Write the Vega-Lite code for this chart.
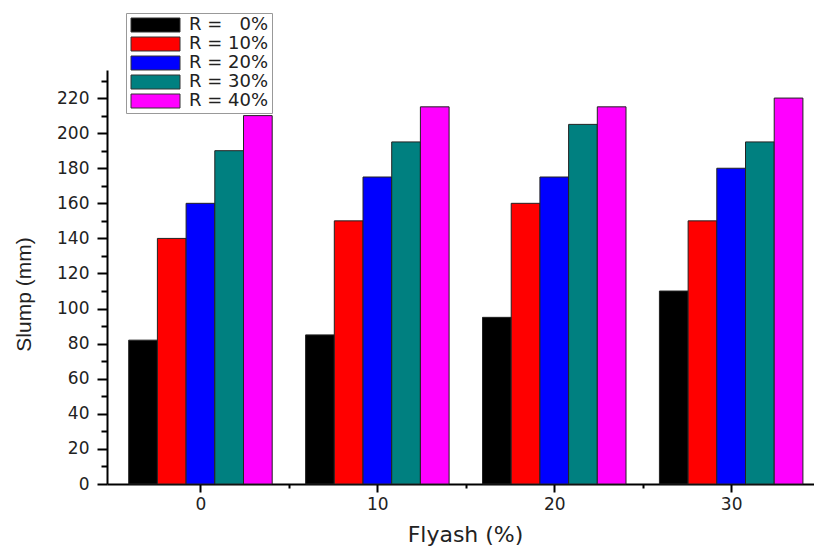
{
  "$schema": "https://vega.github.io/schema/vega-lite/v6.json",
  "width": 707,
  "height": 414,
  "autosize": {"type": "none"},
  "padding": {"left": 107, "top": 70, "right": 0, "bottom": 63},
  "background": "white",
  "config": {"view": {"stroke": null}},
  "data": {"values": [
    {"flyash": 0, "R": 0, "slump": 82},
    {"flyash": 0, "R": 10, "slump": 140},
    {"flyash": 0, "R": 20, "slump": 160},
    {"flyash": 0, "R": 30, "slump": 190},
    {"flyash": 0, "R": 40, "slump": 210},
    {"flyash": 10, "R": 0, "slump": 85},
    {"flyash": 10, "R": 10, "slump": 150},
    {"flyash": 10, "R": 20, "slump": 175},
    {"flyash": 10, "R": 30, "slump": 195},
    {"flyash": 10, "R": 40, "slump": 215},
    {"flyash": 20, "R": 0, "slump": 95},
    {"flyash": 20, "R": 10, "slump": 160},
    {"flyash": 20, "R": 20, "slump": 175},
    {"flyash": 20, "R": 30, "slump": 205},
    {"flyash": 20, "R": 40, "slump": 215},
    {"flyash": 30, "R": 0, "slump": 110},
    {"flyash": 30, "R": 10, "slump": 150},
    {"flyash": 30, "R": 20, "slump": 180},
    {"flyash": 30, "R": 30, "slump": 195},
    {"flyash": 30, "R": 40, "slump": 220}
  ]},
  "encoding": {
    "x": {
      "field": "flyash", "type": "quantitative",
      "scale": {"domain": [-5, 34.4], "nice": false, "zero": false},
      "axis": {
        "values": [0, 5, 10, 15, 20, 25, 30],
        "labelExpr": "datum.value % 10 == 0 ? datum.label : ''",
        "tickSize": {"condition": {"test": "datum.value % 10 == 0", "value": 8}, "value": 4},
        "tickWidth": 2, "tickColor": "#000",
        "domainColor": "#000", "domainWidth": 2,
        "grid": false,
        "labelFont": "DejaVu Sans", "labelFontSize": 17, "labelColor": "#222", "labelPadding": 4,
        "title": "Flyash (%)",
        "titleFont": "DejaVu Sans", "titleFontSize": 22, "titleFontWeight": "normal", "titleColor": "#222",
        "titleX": 358, "titleY": 50, "titleBaseline": "middle", "titleAlign": "center"
      }
    },
    "y": {
      "field": "slump", "type": "quantitative",
      "scale": {"domain": [0, 236], "nice": false},
      "axis": {
        "values": [0, 10, 20, 30, 40, 50, 60, 70, 80, 90, 100, 110, 120, 130, 140, 150, 160, 170, 180, 190, 200, 210, 220, 230],
        "labelExpr": "datum.value % 20 == 0 ? datum.label : ''",
        "tickSize": {"condition": {"test": "datum.value % 20 == 0", "value": 10}, "value": 6},
        "tickWidth": 2, "tickColor": "#000",
        "domainColor": "#000", "domainWidth": 2,
        "grid": false,
        "labelFont": "DejaVu Sans", "labelFontSize": 17, "labelColor": "#222", "labelPadding": 8,
        "title": "Slump (mm)",
        "titleFont": "Liberation Sans", "titleFontSize": 21, "titleFontWeight": "normal", "titleColor": "#222",
        "titleAngle": -90, "titleX": -83, "titleY": 224, "titleBaseline": "middle", "titleAlign": "center"
      }
    },
    "color": {
      "field": "R", "type": "nominal",
      "scale": {"domain": [0, 10, 20, 30, 40], "range": ["#000000", "#ff0000", "#0000ff", "#008080", "#ff00ff"]},
      "legend": {
        "orient": "none", "legendX": 19, "legendY": -57,
        "title": null,
        "fillColor": "white", "strokeColor": "#999", "padding": 3,
        "symbolType": "M-1,-1L6,-1L6,1L-1,1Z", "symbolSize": 196,
        "symbolStrokeColor": "#333", "symbolStrokeWidth": 1, "symbolOpacity": 1,
        "labelOffset": 42, "labelFont": "DejaVu Sans", "labelFontSize": 18, "labelColor": "#222",
        "rowPadding": 1,
        "labelExpr": "datum.value == 0 ? 'R = \u2007' + datum.label + '%' : 'R = ' + datum.label + '%'"
      }
    }
  },
  "layer": [
    {"transform": [{"filter": "datum.R == 0"}], "mark": {"type": "bar", "xOffset": -57.4, "width": 28.7, "stroke": "#222", "strokeWidth": 1}},
    {"transform": [{"filter": "datum.R == 10"}], "mark": {"type": "bar", "xOffset": -28.7, "width": 28.7, "stroke": "#222", "strokeWidth": 1}},
    {"transform": [{"filter": "datum.R == 20"}], "mark": {"type": "bar", "xOffset": 0, "width": 28.7, "stroke": "#222", "strokeWidth": 1}},
    {"transform": [{"filter": "datum.R == 30"}], "mark": {"type": "bar", "xOffset": 28.7, "width": 28.7, "stroke": "#222", "strokeWidth": 1}},
    {"transform": [{"filter": "datum.R == 40"}], "mark": {"type": "bar", "xOffset": 57.4, "width": 28.7, "stroke": "#222", "strokeWidth": 1}}
  ]
}
